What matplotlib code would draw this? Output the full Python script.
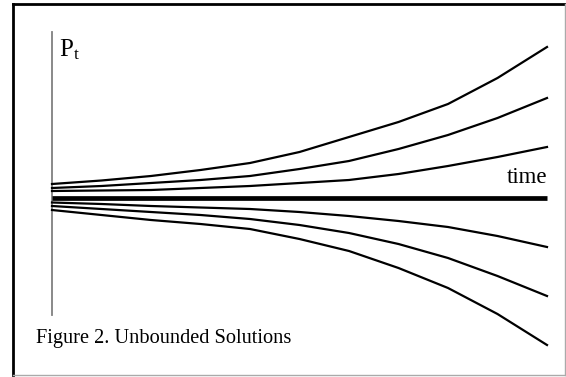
import matplotlib.pyplot as plt
from matplotlib.lines import Line2D

plt.rcParams['font.family'] = ['Liberation Serif', 'DejaVu Serif']
plt.rcParams['mathtext.fontset'] = 'custom'
plt.rcParams['mathtext.rm'] = 'Liberation Serif'

# time points and solution curves
time = [0, 1, 2, 3, 4, 5, 6, 7, 8, 9, 10]
curves = [
    [1.4, 1.75, 2.2, 2.8, 3.5, 4.6, 6.1, 7.6, 9.4, 12.0, 15.1],
    [1.0, 1.2, 1.5, 1.8, 2.2, 2.9, 3.7, 4.9, 6.3, 8.0, 10.0],
    [0.7, 0.75, 0.8, 1.0, 1.2, 1.5, 1.8, 2.4, 3.2, 4.1, 5.1],
    [-0.45, -0.6, -0.8, -0.95, -1.1, -1.4, -1.8, -2.3, -2.9, -3.8, -4.9],
    [-0.8, -1.1, -1.4, -1.7, -2.1, -2.7, -3.5, -4.6, -6.0, -7.8, -9.8],
    [-1.2, -1.7, -2.2, -2.6, -3.1, -4.1, -5.3, -7.0, -9.0, -11.6, -14.7],
]
equilibrium = [0] * len(time)

W, H = 566, 377
fig = plt.figure(figsize=(W / 100, H / 100), dpi=100)
ax = fig.add_axes([52 / W, (H - 360) / H, 495 / W, 328 / H])
ax.set_xlim(0, 10)
ax.set_ylim(-16.2, 16.6)
ax.axis('off')

# vertical axis
ax.plot([0, 0], [16.6, -11.7], color='#808080', lw=1.3, clip_on=False)

for c in curves:
    ax.plot(time, c, color='black', lw=1.6, clip_on=False)
ax.plot(time, equilibrium, color='black', lw=3.4, solid_capstyle='butt', clip_on=False)

ax.text(10, 1.0, 'time', ha='right', va='bottom', fontsize=16.5)
ax.text(0.15, 14.2, r'$\mathrm{P_t}$', ha='left', va='baseline', fontsize=18)

fig.text(36 / W, (H - 343) / H, 'Figure 2. Unbounded Solutions',
         ha='left', va='baseline', fontsize=14.7)

# frame around the figure
fig.add_artist(Line2D([13 / W, 13 / W], [(H - 4) / H, (H - 375) / H], color='black', lw=2))
fig.add_artist(Line2D([13 / W, 1], [(H - 4) / H, (H - 4) / H], color='black', lw=2))
fig.add_artist(Line2D([13 / W, 1], [(H - 375) / H, (H - 375) / H], color='#aaaaaa', lw=1))
fig.add_artist(Line2D([565 / W, 565 / W], [(H - 4) / H, (H - 375) / H], color='#aaaaaa', lw=1))

fig.savefig('out.png', dpi=100)
